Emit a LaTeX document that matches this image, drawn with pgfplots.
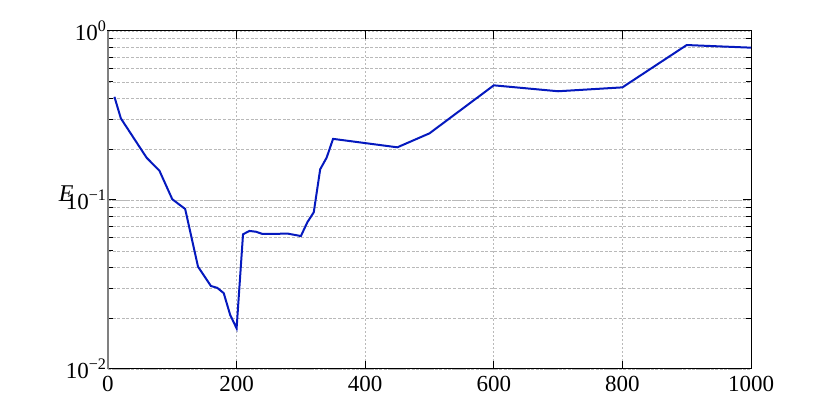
\documentclass[border=0pt]{standalone}
\usepackage{fontspec}
\setmainfont{Liberation Serif}
\usepackage{pgfplots}
\pgfplotsset{compat=1.18}
\definecolor{linecol}{RGB}{5,25,190}
\begin{document}
\begin{tikzpicture}
\begin{axis}[
  scale only axis,
  width=321.5pt, height=169pt,
  ymode=log,
  xmin=0, xmax=1000,
  ymin=0.01, ymax=1,
  xtick={0,200,400,600,800,1000},
  ytick={0.01,0.1,1},
  yticklabels={{10\textsuperscript{−2}},{10\textsuperscript{−1}},{10\textsuperscript{0}}},
  /pgf/number format/assume math mode=true,
  /pgf/number format/1000 sep={},
  ticklabel style={font=\fontsize{11.5}{13}\selectfont},
  yticklabel style={xshift=3pt},
  tick align=inside,
  major tick length=4pt,
  minor tick length=2.5pt,
  tick style={black, line width=0.5pt},
  axis line style={black, line width=0.5pt},
  grid=both,
  major grid style={gray!55, dash pattern=on 1pt off 1pt, line width=0.35pt},
  minor grid style={gray!55, dash pattern=on 1.5pt off 0.8pt, line width=0.3pt},
  xminorgrids=false,
  minor x tick num=0,
  clip mode=individual,
]
\addplot[linecol, line width=1pt] coordinates {
  (10,0.408) (20,0.304) (60,0.178) (80,0.149) (100,0.101) (120,0.0885)
  (140,0.0403) (160,0.0310) (170,0.0302) (180,0.0281) (190,0.0209) (200,0.0174)
  (210,0.0627) (220,0.0656) (230,0.0649) (240,0.0630) (280,0.0632) (300,0.0612)
  (310,0.0738) (320,0.0846) (330,0.152) (340,0.178) (350,0.230)
  (450,0.205) (500,0.248) (600,0.477) (700,0.440) (800,0.464)
  (900,0.826) (1000,0.797)
};
\draw[gray, line width=1pt] (rel axis cs:0,0) -- (rel axis cs:0,1);
\node[font=\itshape\fontsize{12}{13}\selectfont] at (rel axis cs:-0.065,0.52) {E};
\end{axis}
\pgfresetboundingbox
\path[use as bounding box] (-54pt,-23pt) rectangle (361pt,184.5pt);
\end{tikzpicture}
\end{document}
